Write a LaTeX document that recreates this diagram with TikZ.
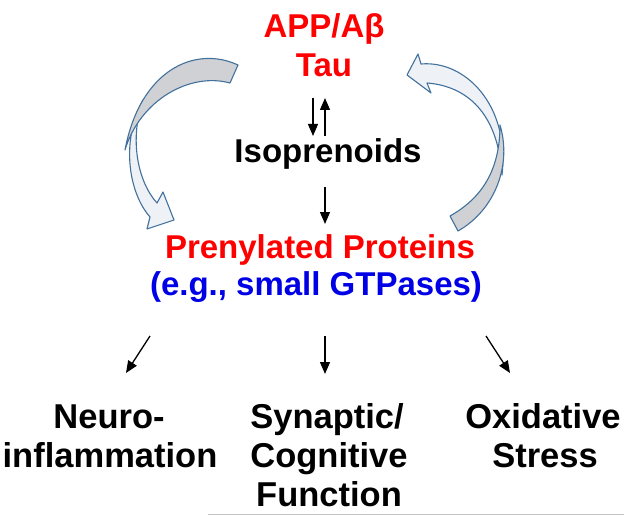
\documentclass[tikz,border=0pt]{standalone}
\usepackage{fontspec}
\setmainfont{Liberation Sans}
\usetikzlibrary{arrows.meta}
\definecolor{tred}{RGB}{255,0,0}
\definecolor{tblue}{RGB}{0,0,230}
\definecolor{edgeblue}{RGB}{65,113,156}
\definecolor{backgray}{RGB}{208,209,212}
\definecolor{frontlight}{RGB}{238,241,245}
\definecolor{rulegray}{RGB}{195,195,195}
\begin{document}
\begin{tikzpicture}[x=1pt,y=-1pt,
  lbl/.style={font=\bfseries\fontsize{33}{39}\selectfont, anchor=base, inner sep=0pt},
  blbl/.style={lbl, font=\bfseries\fontsize{34.5}{39}\selectfont},
  thinarrow/.style={-{Triangle[length=12pt,width=10pt]}, line width=1.3pt, black},
  band/.style={draw=edgeblue, line width=1.1pt, line join=round}]
\useasboundingbox (0,0) rectangle (624,516);

% curved block arrows: front parts first, back parts over them
\path[band, fill=frontlight] (143,100) .. controls (121,140) and (128,192) .. (150,217)
   -- (147,229) -- (174,220) -- (163,192) -- (157,203)
   .. controls (138,182) and (129,140) .. (143,100) -- cycle;
\path[band, fill=backgray] (238,65) .. controls (195,45) and (140,70) .. (125,150)
   .. controls (140,100) and (190,72) .. (230,83) -- cycle;

\path[band, fill=frontlight] (421,64) .. controls (465,60) and (510,105) .. (502,175)
   .. controls (498,112) and (466,86) .. (427,83)
   -- (431,93) -- (407,75) -- (418,54) -- cycle;
\path[band, fill=backgray] (500,125) .. controls (512,165) and (495,210) .. (458,231)
   -- (450,216) .. controls (482,198) and (500,170) .. (500,125) -- cycle;

% texts
\node[lbl, text=tred] (app) at (324,38) {APP/Aβ};
\node[lbl, text=tred] (tau) at (324,77) {Tau};
\node[lbl] (iso) at (328,163) {Isoprenoids};
\node[lbl, text=tred] (prenyl) at (320,258) {Prenylated Proteins};
\node[lbl, text=tblue] (gtp) at (316,295) {(e.g., small GTPases)};
\node[blbl] (neuro) at (109,428) {Neuro-};
\node[blbl] (infl) at (110,467) {inflammation};
\node[blbl] (syn) at (327,428) {Synaptic/};
\node[blbl] (cog) at (329,467) {Cognitive};
\node[blbl] (func) at (329,506) {Function};
\node[blbl] (oxi) at (543,428) {Oxidative};
\node[blbl] (stress) at (545,467) {Stress};

% thin arrows
\coordinate (d1s) at (313,98);  \coordinate (d1e) at (313,136);
\coordinate (u1s) at (325,136); \coordinate (u1e) at (325,98);
\coordinate (d2s) at (325,187); \coordinate (d2e) at (325,224);
\coordinate (b1s) at (150,336); \coordinate (b1e) at (126,373);
\coordinate (b2s) at (325,336); \coordinate (b2e) at (325,374);
\coordinate (b3s) at (486,336); \coordinate (b3e) at (510,373);
\draw[thinarrow] (d1s) -- (d1e);
\draw[thinarrow] (u1s) -- (u1e);
\draw[thinarrow] (d2s) -- (d2e);
\draw[thinarrow] (b1s) -- (b1e);
\draw[thinarrow] (b2s) -- (b2e);
\draw[thinarrow] (b3s) -- (b3e);

% faint rule at the bottom
\coordinate (r1) at (208,514.5); \coordinate (r2) at (624,514.5);
\draw[rulegray, line width=1pt] (r1) -- (r2);
\end{tikzpicture}
\end{document}
